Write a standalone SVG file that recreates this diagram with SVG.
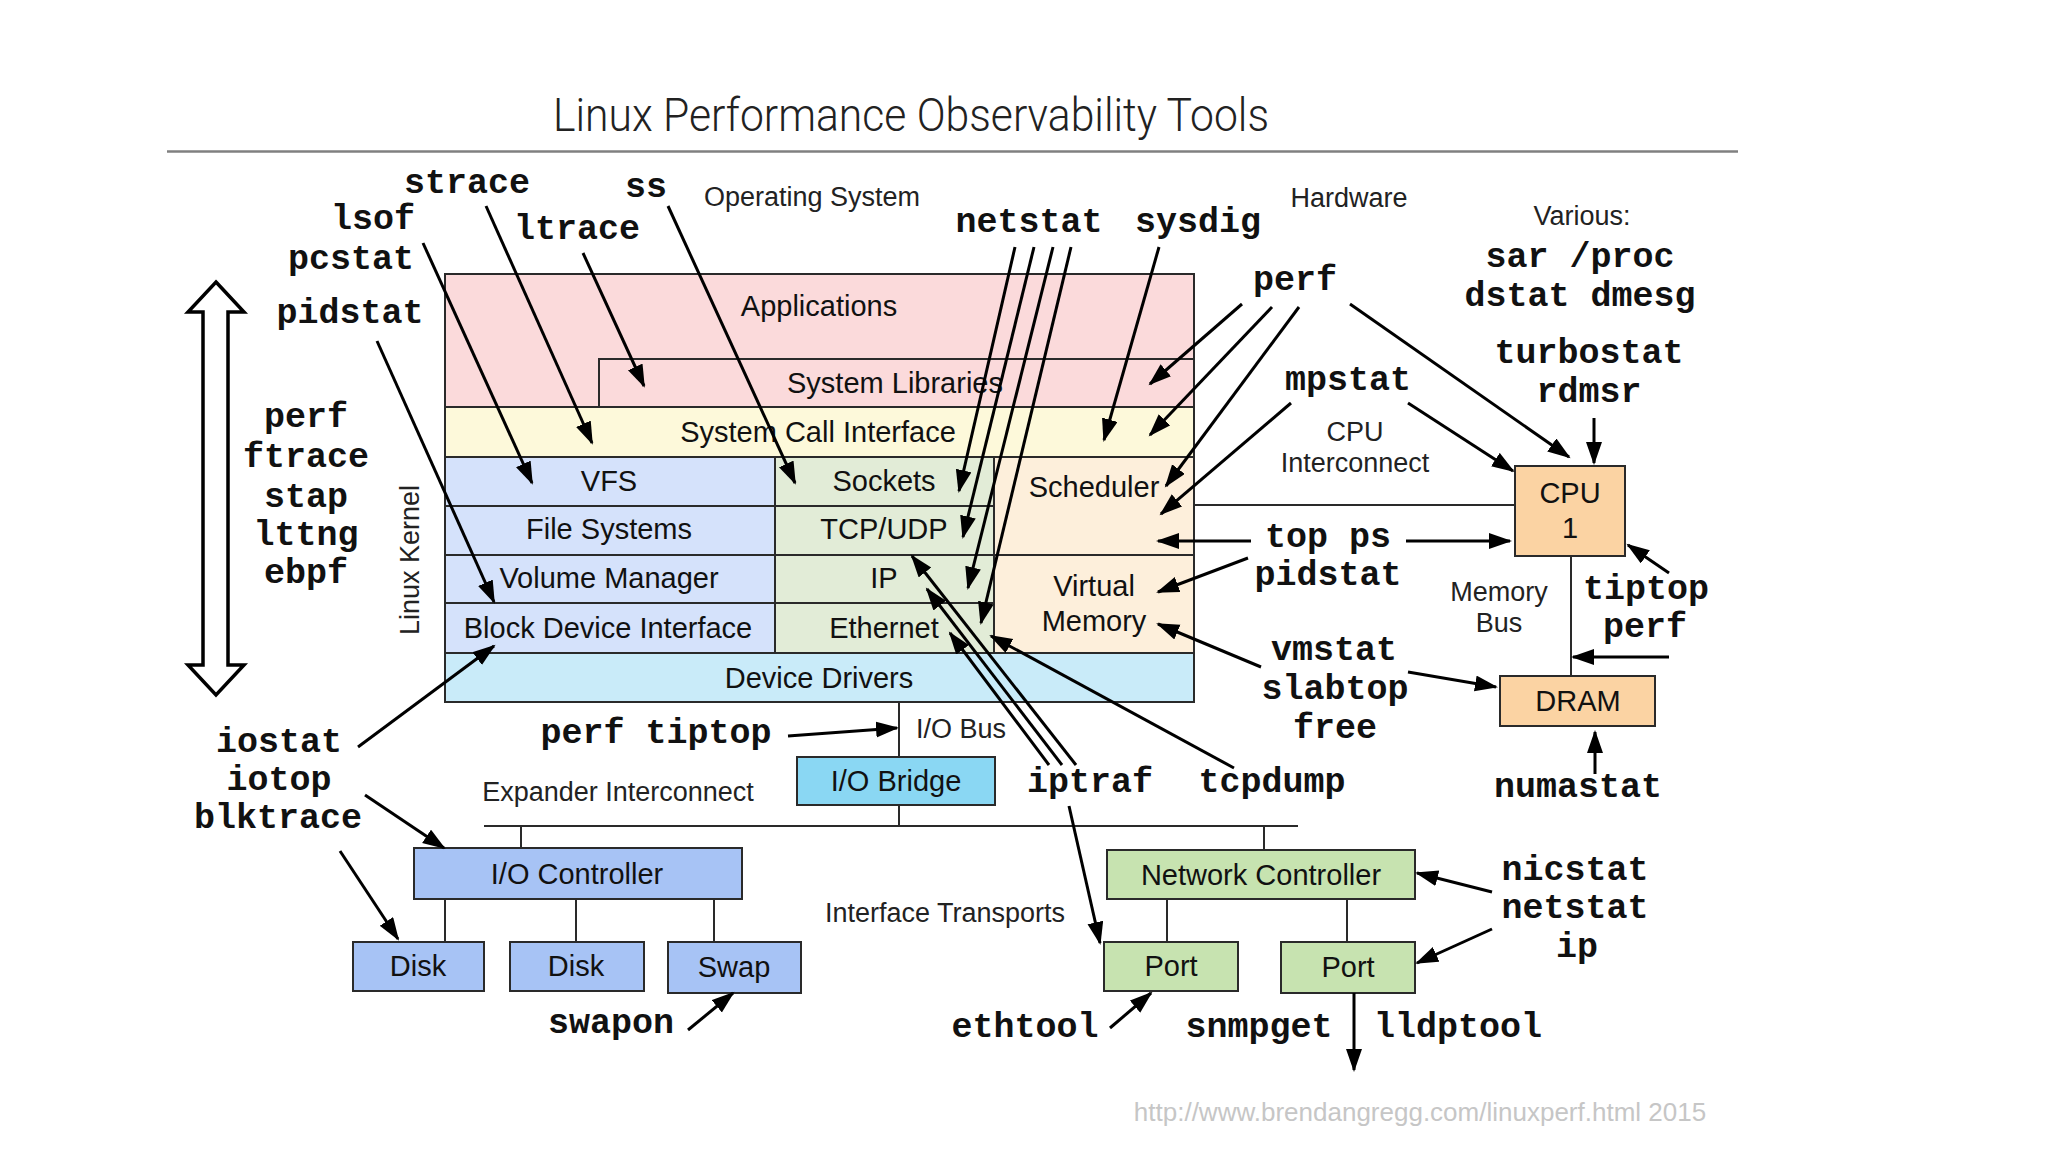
<svg xmlns="http://www.w3.org/2000/svg" width="2048" height="1152" viewBox="0 0 2048 1152">
<style>
.bx{stroke:#2a2a2a;stroke-width:2}
.k{font-family:"Liberation Sans",Arial,sans-serif;font-size:29px;fill:#111;text-anchor:middle}
.n{font-family:"Liberation Sans",Arial,sans-serif;font-size:27px;fill:#222;text-anchor:middle}
.m{font-family:"Liberation Mono","Courier New",monospace;font-weight:bold;font-size:35px;fill:#111;text-anchor:middle}
.ln{stroke:#2a2a2a;stroke-width:2;fill:none}
.ar{stroke:#000;stroke-width:3;fill:none;marker-end:url(#ah)}
.pink{fill:#fbdadb}.yel{fill:#fdf9da}.blu{fill:#d5e2fb}.grn{fill:#e2ecd7}.pch{fill:#fdefdb}.cyn{fill:#c9ebf9}
.bri{fill:#8ad7f3}.dblu{fill:#a7c3f5}.dgrn{fill:#c7e3b0}.org{fill:#fbd3a3}
</style>
<defs>
<marker id="ah" markerUnits="userSpaceOnUse" markerWidth="24" markerHeight="18" refX="21" refY="8" orient="auto">
<path d="M0,0 L23,8 L0,16 z" fill="#000"/>
</marker>
</defs>
<rect width="2048" height="1152" fill="#fff"/>
<g id="title">
<text x="553" y="131" font-family="Roboto,'Liberation Sans',sans-serif" font-weight="300" font-size="46" fill="#222" textLength="716" lengthAdjust="spacingAndGlyphs">Linux Performance Observability Tools</text>
<line x1="167" y1="151.5" x2="1738" y2="151.5" stroke="#808080" stroke-width="2.5"/>
</g>
<g id="section-labels">
<text class="n" x="812" y="206">Operating System</text>
<text class="n" x="1349" y="207">Hardware</text>
<text class="n" x="1582" y="225">Various:</text>
<text class="n" x="1355" y="441">CPU</text>
<text class="n" x="1355" y="472">Interconnect</text>
<text class="n" x="1499" y="601">Memory</text>
<text class="n" x="1499" y="632">Bus</text>
<text class="n" x="961" y="738">I/O Bus</text>
<text class="n" x="618" y="801">Expander Interconnect</text>
<text class="n" x="945" y="922">Interface Transports</text>
<text class="n" transform="translate(419,560) rotate(-90)" fill="#333">Linux Kernel</text>
<text x="1420" y="1121" font-family="'Liberation Sans',Arial,sans-serif" font-size="26" fill="#c6c6c6" text-anchor="middle">http://www.brendangregg.com/linuxperf.html 2015</text>
</g>
<g id="applications"><rect class="bx pink" x="445" y="274" width="749" height="133"/><text class="k" x="819" y="316">Applications</text></g>
<g id="system-libraries"><rect class="bx pink" x="599" y="359" width="595" height="48"/><text class="k" x="895" y="393">System Libraries</text></g>
<g id="system-call-interface"><rect class="bx yel" x="445" y="407" width="749" height="50"/><text class="k" x="818" y="442">System Call Interface</text></g>
<g id="vfs"><rect class="bx blu" x="445" y="457" width="330" height="49"/><text class="k" x="609" y="491">VFS</text></g>
<g id="file-systems"><rect class="bx blu" x="445" y="506" width="330" height="49"/><text class="k" x="609" y="539">File Systems</text></g>
<g id="volume-manager"><rect class="bx blu" x="445" y="555" width="330" height="48"/><text class="k" x="609" y="588">Volume Manager</text></g>
<g id="block-device-interface"><rect class="bx blu" x="445" y="603" width="330" height="50"/><text class="k" x="608" y="638">Block Device Interface</text></g>
<g id="sockets"><rect class="bx grn" x="775" y="457" width="219" height="49"/><text class="k" x="884" y="491">Sockets</text></g>
<g id="tcp-udp"><rect class="bx grn" x="775" y="506" width="219" height="49"/><text class="k" x="884" y="539">TCP/UDP</text></g>
<g id="ip"><rect class="bx grn" x="775" y="555" width="219" height="48"/><text class="k" x="884" y="588">IP</text></g>
<g id="ethernet"><rect class="bx grn" x="775" y="603" width="219" height="50"/><text class="k" x="884" y="638">Ethernet</text></g>
<g id="scheduler"><rect class="bx pch" x="994" y="457" width="200" height="98"/><text class="k" x="1094" y="497">Scheduler</text></g>
<g id="virtual-memory"><rect class="bx pch" x="994" y="555" width="200" height="98"/><text class="k" x="1094" y="596">Virtual</text><text class="k" x="1094" y="631">Memory</text></g>
<g id="device-drivers"><rect class="bx cyn" x="445" y="653" width="749" height="49"/><text class="k" x="819" y="688">Device Drivers</text></g>
<g id="cpu"><rect class="bx org" x="1515" y="466" width="110" height="90"/><text class="k" x="1570" y="503">CPU</text><text class="k" x="1570" y="538">1</text></g>
<g id="dram"><rect class="bx org" x="1500" y="676" width="155" height="50"/><text class="k" x="1578" y="711">DRAM</text></g>
<g id="io-bridge"><rect class="bx bri" x="797" y="757" width="198" height="48"/><text class="k" x="896" y="791">I/O Bridge</text></g>
<g id="io-controller"><rect class="bx dblu" x="414" y="848" width="328" height="51"/><text class="k" x="577" y="884">I/O Controller</text></g>
<g id="disk1"><rect class="bx dblu" x="353" y="942" width="131" height="49"/><text class="k" x="418" y="976">Disk</text></g>
<g id="disk2"><rect class="bx dblu" x="510" y="942" width="134" height="49"/><text class="k" x="576" y="976">Disk</text></g>
<g id="swap"><rect class="bx dblu" x="668" y="942" width="133" height="51"/><text class="k" x="734" y="977">Swap</text></g>
<g id="network-controller"><rect class="bx dgrn" x="1107" y="850" width="308" height="49"/><text class="k" x="1261" y="885">Network Controller</text></g>
<g id="port1"><rect class="bx dgrn" x="1104" y="942" width="134" height="49"/><text class="k" x="1171" y="976">Port</text></g>
<g id="port2"><rect class="bx dgrn" x="1281" y="942" width="134" height="51"/><text class="k" x="1348" y="977">Port</text></g>
<g id="tools">
<text class="m" x="467" y="193">strace</text>
<text class="m" x="646" y="197">ss</text>
<text class="m" x="373" y="229">lsof</text>
<text class="m" x="351" y="269">pcstat</text>
<text class="m" x="577" y="239">ltrace</text>
<text class="m" x="350" y="323">pidstat</text>
<text class="m"><tspan x="306" y="427">perf</tspan><tspan x="306" y="467">ftrace</tspan><tspan x="306" y="507">stap</tspan><tspan x="306" y="545">lttng</tspan><tspan x="306" y="583">ebpf</tspan></text>
<text class="m"><tspan x="279" y="752">iostat</tspan><tspan x="279" y="790">iotop</tspan><tspan x="278" y="828">blktrace</tspan></text>
<text class="m" x="656" y="743">perf tiptop</text>
<text class="m" x="611" y="1033">swapon</text>
<text class="m" x="1090" y="792">iptraf</text>
<text class="m" x="1272" y="792">tcpdump</text>
<text class="m" x="1578" y="797">numastat</text>
<text class="m"><tspan x="1575" y="880">nicstat</tspan><tspan x="1575" y="918">netstat</tspan><tspan x="1577" y="957">ip</tspan></text>
<text class="m" x="1025" y="1037">ethtool</text>
<text class="m" x="1259" y="1037">snmpget</text>
<text class="m" x="1458" y="1037">lldptool</text>
<text class="m"><tspan x="1328" y="547">top ps</tspan><tspan x="1328" y="585">pidstat</tspan></text>
<text class="m"><tspan x="1334" y="660">vmstat</tspan><tspan x="1335" y="699">slabtop</tspan><tspan x="1335" y="738">free</tspan></text>
<text class="m"><tspan x="1646" y="599">tiptop</tspan><tspan x="1645" y="637">perf</tspan></text>
<text class="m" x="1029" y="232">netstat</text>
<text class="m" x="1198" y="232">sysdig</text>
<text class="m" x="1295" y="290">perf</text>
<text class="m" x="1348" y="390">mpstat</text>
<text class="m"><tspan x="1580" y="267">sar /proc</tspan><tspan x="1580" y="306">dstat dmesg</tspan></text>
<text class="m"><tspan x="1589" y="363">turbostat</tspan><tspan x="1589" y="402">rdmsr</tspan></text>
</g>
<g id="connectors">
<polygon points="216,282 244,312 228,312 228,665 244,665 216,695 188,665 203,665 203,312 188,312" fill="#fff" stroke="#000" stroke-width="3.5" stroke-linejoin="miter"/>
<line class="ln" x1="1194" y1="505" x2="1515" y2="505"/>
<line class="ln" x1="1571" y1="556" x2="1571" y2="676"/>
<line class="ln" x1="899" y1="702" x2="899" y2="757"/>
<line class="ln" x1="899" y1="805" x2="899" y2="826"/>
<line class="ln" x1="484" y1="826" x2="1298" y2="826"/>
<line class="ln" x1="521" y1="826" x2="521" y2="848"/>
<line class="ln" x1="1264" y1="826" x2="1264" y2="850"/>
<line class="ln" x1="445" y1="899" x2="445" y2="942"/>
<line class="ln" x1="576" y1="899" x2="576" y2="942"/>
<line class="ln" x1="714" y1="899" x2="714" y2="942"/>
<line class="ln" x1="1167" y1="899" x2="1167" y2="942"/>
<line class="ln" x1="1347" y1="899" x2="1347" y2="942"/>
<line class="ar" x1="486" y1="206" x2="592" y2="443"/>
<line class="ar" x1="423" y1="243" x2="532" y2="483"/>
<line class="ar" x1="583" y1="253" x2="644" y2="386"/>
<line class="ar" x1="668" y1="206" x2="795" y2="483"/>
<line class="ar" x1="377" y1="341" x2="494" y2="602"/>
<line class="ar" x1="358" y1="747" x2="494" y2="646"/>
<line class="ar" x1="365" y1="795" x2="444" y2="848"/>
<line class="ar" x1="340" y1="851" x2="398" y2="939"/>
<line class="ar" x1="688" y1="1030" x2="733" y2="993"/>
<line class="ar" x1="788" y1="736" x2="897" y2="728"/>
<line class="ar" x1="1015" y1="247" x2="959" y2="491"/>
<line class="ar" x1="1034" y1="247" x2="963" y2="537"/>
<line class="ar" x1="1053" y1="247" x2="968" y2="588"/>
<line class="ar" x1="1071" y1="247" x2="981" y2="623"/>
<line class="ar" x1="1159" y1="247" x2="1104" y2="440"/>
<line class="ar" x1="1242" y1="304" x2="1150" y2="384"/>
<line class="ar" x1="1272" y1="307" x2="1150" y2="435"/>
<line class="ar" x1="1299" y1="307" x2="1166" y2="486"/>
<line class="ar" x1="1350" y1="304" x2="1569" y2="457"/>
<line class="ar" x1="1291" y1="403" x2="1161" y2="514"/>
<line class="ar" x1="1408" y1="403" x2="1513" y2="471"/>
<line class="ar" x1="1594" y1="418" x2="1594" y2="463"/>
<line class="ar" x1="1251" y1="541" x2="1158" y2="541"/>
<line class="ar" x1="1406" y1="541" x2="1510" y2="541"/>
<line class="ar" x1="1248" y1="558" x2="1158" y2="592"/>
<line class="ar" x1="1261" y1="667" x2="1158" y2="624"/>
<line class="ar" x1="1408" y1="672" x2="1496" y2="687"/>
<line class="ar" x1="1669" y1="573" x2="1628" y2="545"/>
<line class="ar" x1="1669" y1="657" x2="1573" y2="657"/>
<line class="ar" x1="1595" y1="774" x2="1595" y2="732"/>
<line class="ar" x1="1049" y1="765" x2="950" y2="633"/>
<line class="ar" x1="1062" y1="765" x2="927" y2="589"/>
<line class="ar" x1="1076" y1="765" x2="912" y2="556"/>
<line class="ar" x1="1234" y1="768" x2="991" y2="636"/>
<line class="ar" x1="1069" y1="806" x2="1100" y2="943"/>
<line class="ar" x1="1110" y1="1028" x2="1151" y2="993"/>
<line class="ar" x1="1492" y1="892" x2="1417" y2="873"/>
<line class="ar" x1="1492" y1="929" x2="1417" y2="963"/>
<line class="ar" x1="1354" y1="993" x2="1354" y2="1070"/>
</g>
</svg>
